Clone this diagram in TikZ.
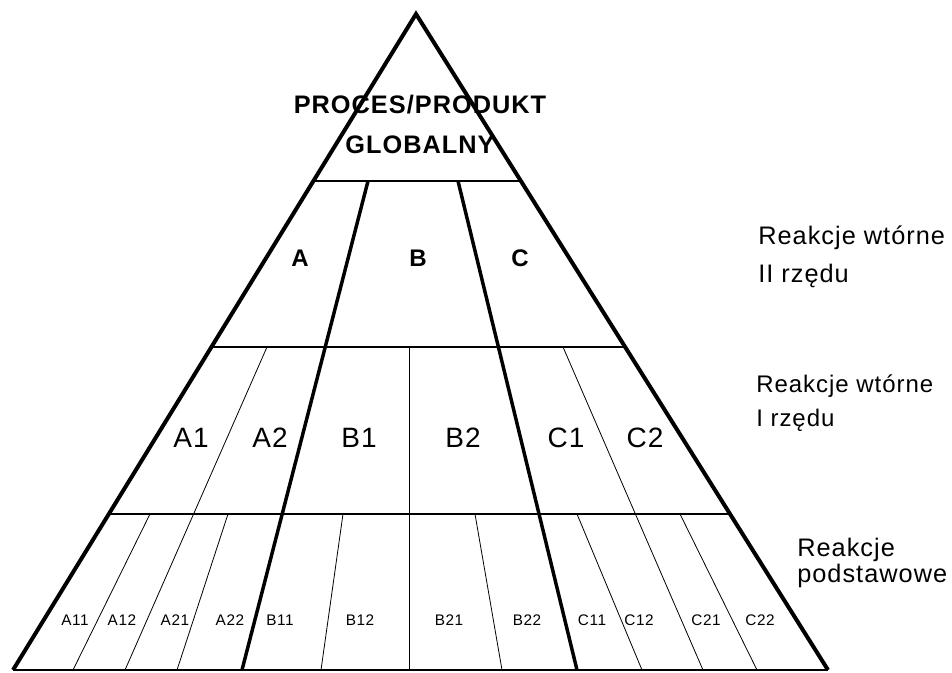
\documentclass[tikz,border=0pt]{standalone}
\usepackage{fontspec}
\setmainfont{Liberation Sans}[LetterSpace=4]
\usetikzlibrary{calc}

\begin{document}
\begin{tikzpicture}[x=0.75pt, y=-0.75pt,
    edge/.style={line width=3pt, line join=miter},
    band/.style={line width=2.2pt},
    split/.style={line width=2.6pt},
    fine/.style={line width=0.6pt},
    title/.style={font=\fontsize{19}{30}\selectfont\bfseries, align=center},
    big/.style={font=\fontsize{18}{20}\selectfont\bfseries},
    mid/.style={font=\fontsize{21}{24}\selectfont},
    small/.style={font=\fontsize{11.5}{13}\selectfont},
    side/.style={align=left, anchor=base west, inner sep=0pt}
  ]
  \useasboundingbox (0,0) rectangle (952,673);

  % outline of the pyramid
  \coordinate (top) at (416,14);
  \coordinate (bl) at (13,670);
  \coordinate (br) at (828,670);
  \foreach \n/\y in {1/181, 2/347, 3/514} {
    \coordinate (l\n) at ($(top)!{(\y-14)/656}!(bl)$);
    \coordinate (r\n) at ($(top)!{(\y-14)/656}!(br)$);
  }
  \draw[edge] (bl) -- (top) -- (br);
  \draw[line width=1.2pt] (bl) -- (br);
  \foreach \n in {1,2,3}
    \draw[band] (l\n) -- (r\n);

  % A / B / C
  \coordinate (ab1) at (368,181);
  \coordinate (ab2) at (242,670);
  \coordinate (bc1) at (458,181);
  \coordinate (bc2) at (577,670);
  \draw[split] (ab1) -- (ab2);
  \draw[split] (bc1) -- (bc2);

  % second level
  \coordinate (a12t) at (267,347);
  \coordinate (a12b) at (125,670);
  \coordinate (b12t) at (409,347);
  \coordinate (b12b) at (409,670);
  \coordinate (c12t) at (563,347);
  \coordinate (c12b) at (703,670);
  \draw[fine] (a12t) -- (a12b);
  \draw[fine] (b12t) -- (b12b);
  \draw[fine] (c12t) -- (c12b);

  % base level
  \foreach \t/\b [count=\i] in {150/73, 228/177, 343/321, 475/502, 577/642, 680/757} {
    \coordinate (s\i t) at (\t,514);
    \coordinate (s\i b) at (\b,670);
    \draw[fine] (s\i t) -- (s\i b);
  }

  % labels
  \node[title] (glob) at (420,124) {PROCES/PRODUKT\\GLOBALNY};

  \node[big] (A) at (300,258) {A};
  \node[big] (B) at (418,258) {B};
  \node[big] (C) at (520,258) {C};

  \foreach \name/\x in {A1/191, A2/270, B1/359, B2/463, C1/566, C2/645}
    \node[mid] (\name) at (\x,438) {\name};

  \foreach \name/\x in {A11/75, A12/122, A21/175, A22/230, B11/280, B12/360,
                        B21/449, B22/527, C11/592, C12/639, C21/706, C22/760}
    \node[small] (\name) at (\x,620) {\name};

  \node[side, font=\fontsize{19}{28.5}\selectfont] (second) at (758,283) {Reakcje wtórne\\II rzędu};
  \node[side, font=\fontsize{18}{25}\selectfont] (first) at (756,426) {Reakcje wtórne\\I rzędu};
  \node[side, font=\fontsize{19}{19}\selectfont] (basic) at (797,582) {Reakcje\\podstawowe};
\end{tikzpicture}
\end{document}
